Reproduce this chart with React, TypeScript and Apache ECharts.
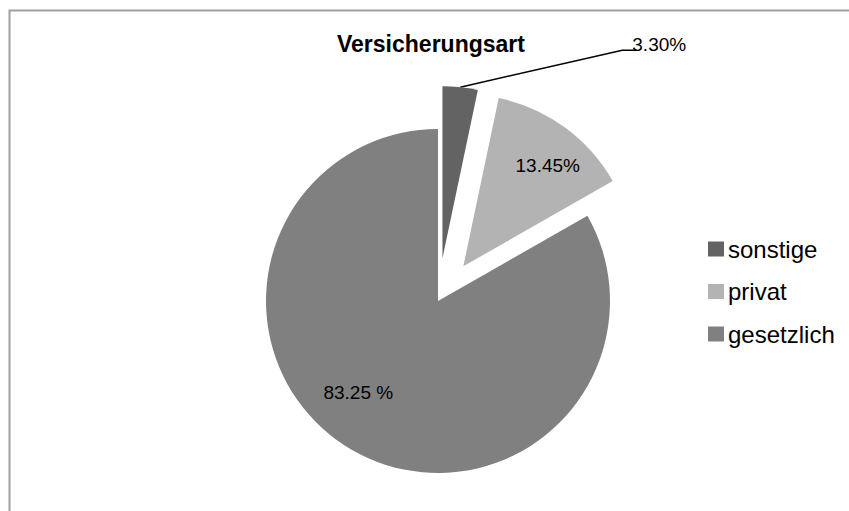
import React, { useEffect, useRef } from 'react';
import * as echarts from 'echarts';

const categories = ['sonstige', 'privat', 'gesetzlich'];
const values = [3.3, 13.45, 83.25];
const labelTexts = ['3.30%', '13.45%', '83.25 %'];
const colors = ['#636363', '#b3b3b3', '#808080'];
const exploded = [true, true, false];

const FONT = 'Liberation Sans, Arial, sans-serif';

export default function App() {
  const ref = useRef<HTMLDivElement>(null);
  useEffect(() => {
    const chart = echarts.init(ref.current!, null, { renderer: 'svg' });
    chart.setOption({
      animation: false,
      backgroundColor: '#ffffff',
      title: {
        text: 'Versicherungsart',
        left: 337,
        top: 32,
        padding: 0,
        textStyle: { fontFamily: FONT, fontSize: 23, fontWeight: 'bold', color: '#000' },
      },
      legend: {
        orient: 'vertical',
        left: 708,
        top: 237,
        padding: 0,
        itemWidth: 16,
        itemHeight: 15,
        itemGap: 18.5,
        icon: 'rect',
        selectedMode: false,
        textStyle: { fontFamily: FONT, fontSize: 24, color: '#000', padding: [0, 0, 0, -1] },
        data: categories,
      },
      graphic: [
        {
          type: 'rect',
          silent: true,
          z: -10,
          shape: { x: 9.5, y: 10.5, width: 900, height: 600 },
          style: { fill: 'none', stroke: '#a0a0a0', lineWidth: 2 },
        },
      ],
      series: [
        {
          type: 'pie',
          center: [438, 301],
          radius: 172,
          startAngle: 90,
          clockwise: true,
          selectedMode: 'multiple',
          selectedOffset: 43,
          emphasis: { disabled: true },
          data: categories.map((name, i) => ({
            name,
            value: values[i],
            selected: exploded[i],
            itemStyle: { color: colors[i] },
            label: i === 0 ? { position: 'outside' } : { position: 'inside' },
            labelLine: { show: i === 0 },
          })),
          label: {
            formatter: (p: any) => labelTexts[p.dataIndex],
            fontFamily: FONT,
            fontSize: 19,
            color: '#000',
          },
          labelLine: {
            length: 10,
            length2: 12,
            lineStyle: { color: '#000', width: 1.5 },
          },
          labelLayout: (p: any) => {
            if (p.dataIndex === 0) {
              const dx = 154;
              const dy = -33;
              const pts = p.labelLinePoints;
              if (!pts) return { dx, dy };
              const end = [pts[2][0] + dx + 9, pts[2][1] + dy + 6];
              return { dx, dy, labelLinePoints: [pts[0], [end[0] - 14, end[1]], end] };
            }
            if (p.dataIndex === 1) return { dx: 32, dy: -29 };
            return { dx: -35, dy: 15 };
          },
        },
      ],
    });
    return () => chart.dispose();
  }, []);
  return <div ref={ref} style={{ position: 'fixed', left: 0, top: 0, width: 849, height: 511 }} />;
}
